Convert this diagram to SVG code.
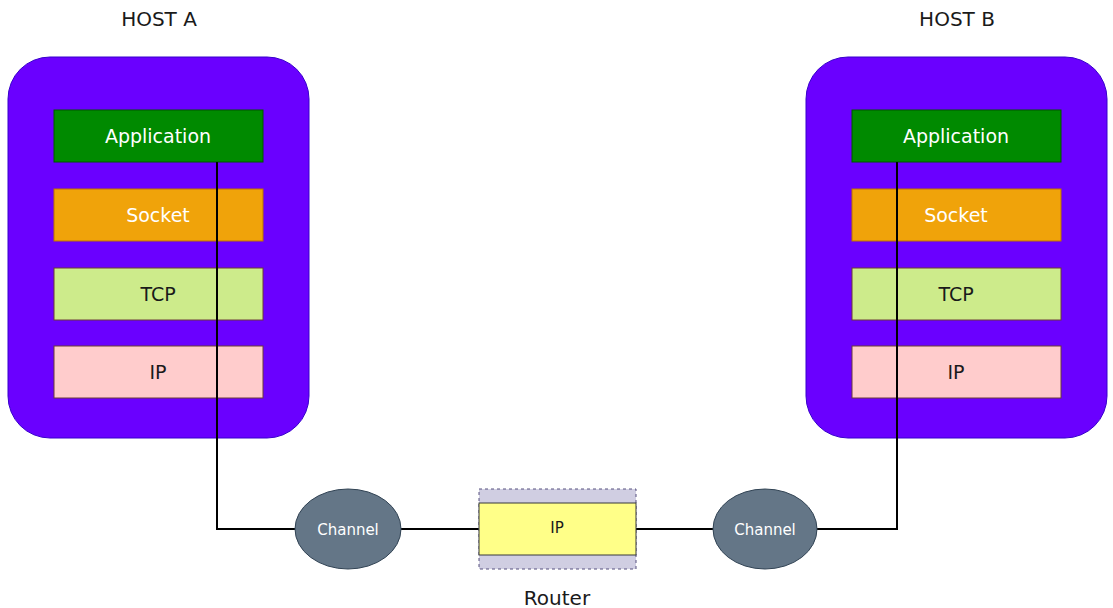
<svg xmlns="http://www.w3.org/2000/svg" width="1113" height="608" viewBox="0 0 1113 608">
<style>
.host{fill:#6a00ff;stroke:#3700cc;stroke-width:1}
.lbl{font-family:"DejaVu Sans",Verdana,sans-serif;font-size:19px;text-anchor:middle;dominant-baseline:central}
.title{font-size:20px}
.small{font-size:15px}
.app{fill:#008a00;stroke:#005700}
.sock{fill:#f0a30a;stroke:#bd7000}
.tcp{fill:#cdeb8b;stroke:#6a3a3a}
.ip{fill:#ffcccc;stroke:#6a3a3a}
.ch{fill:#647687;stroke:#314354}
.w{fill:#ffffff}
.k{fill:#1a1a1a}
.wire{fill:none;stroke:#000;stroke-width:2}
</style>
<text class="lbl k title" x="159" y="19">HOST A</text>
<text class="lbl k title" x="957" y="19">HOST B</text>
<g id="hostA">
<rect class="host" x="8" y="57" width="301" height="381" rx="42"/>
</g>
<g id="hostB">
<rect class="host" x="806" y="57" width="301" height="381" rx="42"/>
</g>
<g id="appA"><rect class="app" x="54" y="110" width="209" height="52"/><text class="lbl w" x="158" y="136">Application</text></g>
<g id="sockA"><rect class="sock" x="54" y="189" width="209" height="52"/><text class="lbl w" x="158" y="215">Socket</text></g>
<g id="tcpA"><rect class="tcp" x="54" y="268" width="209" height="52"/><text class="lbl k" x="158" y="294">TCP</text></g>
<g id="ipA"><rect class="ip" x="54" y="346" width="209" height="52"/><text class="lbl k" x="158" y="372">IP</text></g>
<g id="appB"><rect class="app" x="852" y="110" width="209" height="52"/><text class="lbl w" x="956" y="136">Application</text></g>
<g id="sockB"><rect class="sock" x="852" y="189" width="209" height="52"/><text class="lbl w" x="956" y="215">Socket</text></g>
<g id="tcpB"><rect class="tcp" x="852" y="268" width="209" height="52"/><text class="lbl k" x="956" y="294">TCP</text></g>
<g id="ipB"><rect class="ip" x="852" y="346" width="209" height="52"/><text class="lbl k" x="956" y="372">IP</text></g>
<g id="connectors">
<polyline class="wire" points="217,162 217,529 296,529"/>
<line class="wire" x1="401" y1="529" x2="479" y2="529"/>
<line class="wire" x1="636" y1="529" x2="713" y2="529"/>
<polyline class="wire" points="817,529 897,529 897,162"/>
</g>
<g id="channel1"><ellipse class="ch" cx="348" cy="529" rx="53" ry="40"/><text class="lbl w small" x="348" y="530">Channel</text></g>
<g id="router">
<rect x="479" y="489" width="157" height="80" fill="#d0cee2" stroke="#56517e" stroke-dasharray="3,3"/>
<rect x="479" y="503" width="157" height="52" fill="#ffff88" stroke="#36393d"/>
<text class="lbl k small" x="557" y="528">IP</text>
<text class="lbl k title" x="557" y="598">Router</text>
</g>
<g id="channel2"><ellipse class="ch" cx="765" cy="529" rx="52" ry="40"/><text class="lbl w small" x="765" y="530">Channel</text></g>
</svg>
